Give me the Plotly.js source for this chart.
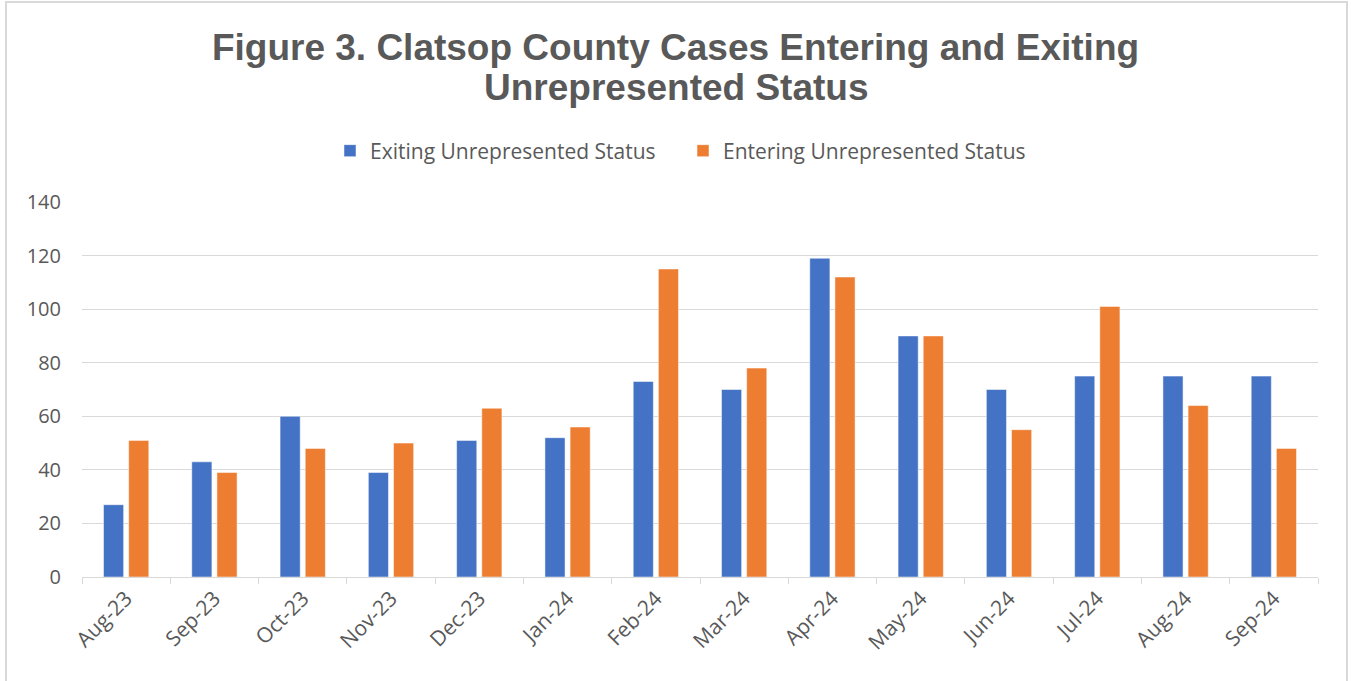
<!DOCTYPE html>
<html>
<head>
<meta charset="utf-8">
<script src="https://cdn.plot.ly/plotly-3.0.1.min.js"></script>
<style>
  html, body { margin: 0; padding: 0; background: #fff; overflow: hidden; }
  #frame { position: absolute; left: 5px; top: 1px; width: 1343px; height: 700px; border: 2px solid #d9d9d9; box-sizing: border-box; pointer-events: none; z-index: 5; }
  #chart { width: 1351px; height: 681px; }
</style>
</head>
<body>
<div id="frame"></div>
<div id="chart"></div>
<script>
const months = ["Aug-23","Sep-23","Oct-23","Nov-23","Dec-23","Jan-24","Feb-24","Mar-24","Apr-24","May-24","Jun-24","Jul-24","Aug-24","Sep-24"];
const exiting = [27, 43, 60, 39, 51, 52, 73, 70, 119, 90, 70, 75, 75, 75];
const entering = [51, 39, 48, 50, 63, 56, 115, 78, 112, 90, 55, 101, 64, 48];
const yTicks = [0, 20, 40, 60, 80, 100, 120, 140];
const titleLine1 = "Figure 3. Clatsop County Cases Entering and Exiting";
const titleLine2 = "Unrepresented Status";

const textColor = "#595959";
const titleFont = {family: "Liberation Sans, Arial, sans-serif", size: 37, color: textColor};
const tickFont = {family: "Open Sans, sans-serif", size: 20, color: textColor};

const data = [
  {type: "bar", name: "Exiting Unrepresented Status", x: months, y: exiting,
   marker: {color: "#4472c4", line: {color: "#ffffff", width: 0.5}}},
  {type: "bar", name: "Entering Unrepresented Status", x: months, y: entering,
   marker: {color: "#ed7d31", line: {color: "#ffffff", width: 0.5}}}
];

const layout = {
  width: 1351, height: 681,
  margin: {l: 82, r: 33, t: 202, b: 104},
  paper_bgcolor: "#ffffff", plot_bgcolor: "#ffffff",
  barmode: "group", bargap: 0.43, bargroupgap: 0.2,
  title: {
    text: "<b>" + titleLine1 + "</b>",
    font: titleFont,
    x: 0.5, xanchor: "center", xref: "container",
    y: 1 - 47 / 681, yanchor: "middle", yref: "container"
  },
  annotations: [{
    text: "<b>" + titleLine2 + "</b>", font: titleFont, showarrow: false,
    xref: "paper", yref: "paper", x: (676 - 82) / 1236, y: (577 - 88) / 375,
    xanchor: "center", yanchor: "middle"
  }],
  showlegend: true,
  legend: {
    orientation: "h", x: (683 - 82) / 1236, xanchor: "center", y: (577 - 151) / 375, yanchor: "middle",
    font: {family: "Open Sans, sans-serif", size: 21, color: textColor},
    itemwidth: 30, entrywidth: 308, traceorder: "normal"
  },
  xaxis: {
    type: "category", tickangle: -45, tickfont: {family: "Open Sans, sans-serif", size: 21, color: textColor},
    showgrid: false, showline: true, linecolor: "#d9d9d9", linewidth: 1,
    ticks: "outside", tickson: "boundaries", ticklen: 6, tickcolor: "#d9d9d9",
    fixedrange: true
  },
  yaxis: {
    range: [0, 140], tickvals: yTicks, ticktext: yTicks.map(String),
    tickfont: tickFont, showgrid: true, gridcolor: "#d9d9d9", gridwidth: 1,
    zeroline: false, showline: false, ticks: "", ticklabelstandoff: 20, fixedrange: true
  }
};

Plotly.newPlot("chart", data, layout, {displayModeBar: false, staticPlot: true});
</script>
</body>
</html>
